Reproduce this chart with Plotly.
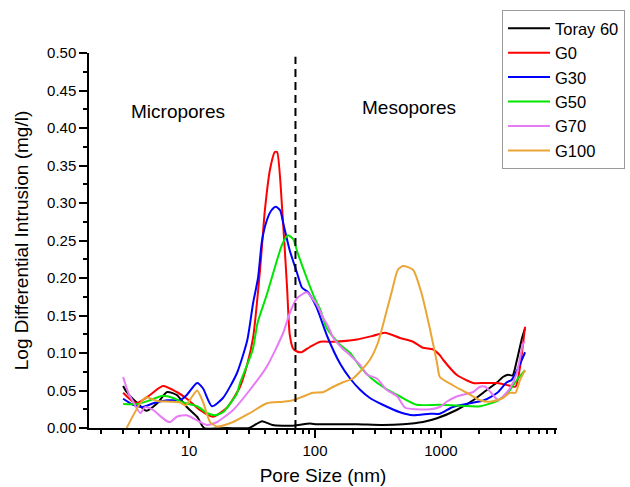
import plotly.graph_objects as go

# ---- data (pore size in nm, log differential intrusion in mg/l) ----
toray_x = [3.0, 3.2, 3.9, 4.6, 5.6, 6.7, 8.0, 9.6, 11.6, 13.2, 20, 30, 34, 38, 46, 67, 91, 103,
           150, 215, 345, 500, 720, 930, 1330, 1800, 2200, 2800, 3100, 3400, 3700, 4000, 4400, 4650]
toray_y = [0.056, 0.048, 0.033, 0.023, 0.033, 0.048, 0.044, 0.028, 0.015, 0.0, 0.0, 0.0, 0.005, 0.009,
           0.004, 0.003, 0.006, 0.005, 0.005, 0.005, 0.004, 0.005, 0.008, 0.013, 0.024, 0.037, 0.048,
           0.061, 0.068, 0.071, 0.070, 0.090, 0.120, 0.133]

g0_x = [3.0, 3.8, 4.9, 6.2, 8.0, 9.6, 12.2, 15.5, 20, 25.4, 29, 32.3, 36.6, 40, 44, 48, 50, 55, 60,
        63, 67, 72, 78, 91, 110, 140, 215, 290, 360, 473, 600, 720, 860, 980, 1040, 1330, 1800,
        2200, 2800, 3400, 3900, 4240, 4650]
g0_y = [0.047, 0.033, 0.044, 0.056, 0.048, 0.039, 0.024, 0.015, 0.027, 0.055, 0.085, 0.121, 0.21,
        0.29, 0.345, 0.368, 0.368, 0.29, 0.188, 0.125, 0.106, 0.102, 0.101, 0.108, 0.115, 0.115,
        0.118, 0.123, 0.127, 0.120, 0.115, 0.107, 0.105, 0.097, 0.091, 0.071, 0.060, 0.060, 0.060,
        0.057, 0.055, 0.081, 0.135]

g30_x = [3.0, 3.6, 4.3, 5.2, 6.7, 8.5, 9.6, 11.6, 12.9, 15.2, 18.6, 24, 29, 32.3, 35.3, 38, 41.5,
         45, 49, 53, 56, 63, 72, 79, 88, 103, 110, 126, 158, 190, 228, 273, 345, 473, 600, 820,
         980, 1240, 1700, 2200, 2800, 3330, 3630, 4100, 4650]
g30_y = [0.039, 0.031, 0.028, 0.033, 0.037, 0.037, 0.044, 0.060, 0.053, 0.029, 0.040, 0.073, 0.117,
         0.167, 0.200, 0.250, 0.277, 0.290, 0.295, 0.290, 0.273, 0.237, 0.207, 0.187, 0.181, 0.161,
         0.148, 0.121, 0.086, 0.066, 0.051, 0.040, 0.031, 0.021, 0.017, 0.019, 0.019, 0.028, 0.033,
         0.037, 0.047, 0.061, 0.064, 0.080, 0.101]

g50_x = [3.0, 3.9, 4.9, 6.2, 7.5, 9.0, 11.6, 13.9, 16, 18.6, 24, 25.4, 32, 35, 41.5, 50, 55, 61, 67,
         73, 86, 100, 110, 124, 158, 190, 228, 273, 345, 473, 640, 980, 2040, 2850, 3400, 4000, 4650]
g50_y = [0.032, 0.032, 0.037, 0.043, 0.040, 0.034, 0.029, 0.020, 0.017, 0.021, 0.046, 0.060, 0.104,
         0.140, 0.178, 0.224, 0.245, 0.257, 0.252, 0.233, 0.200, 0.172, 0.158, 0.133, 0.111, 0.100,
         0.082, 0.068, 0.055, 0.042, 0.031, 0.031, 0.029, 0.037, 0.047, 0.064, 0.077]

g70_x = [3.0, 3.3, 3.6, 4.1, 4.5, 5.2, 5.9, 6.7, 7.1, 8.0, 9.6, 12.2, 13.9, 16.7, 22.4, 30.5, 41.5,
         56, 63, 72, 86, 96, 103, 117, 126, 140, 163, 190, 228, 260, 310, 370, 450, 520, 640, 820,
         980, 1110, 1330, 1800, 2040, 2250, 2500, 2850, 3100, 3530, 4000, 4500, 4650]
g70_y = [0.068, 0.047, 0.035, 0.020, 0.028, 0.024, 0.016, 0.009, 0.008, 0.015, 0.017, 0.008, 0.004,
         0.008, 0.024, 0.051, 0.082, 0.127, 0.153, 0.173, 0.181, 0.172, 0.165, 0.146, 0.137, 0.120,
         0.107, 0.097, 0.084, 0.071, 0.066, 0.051, 0.042, 0.027, 0.025, 0.025, 0.028, 0.035, 0.042,
         0.048, 0.055, 0.055, 0.047, 0.037, 0.042, 0.053, 0.073, 0.113, 0.115]

g100_x = [3.2, 4.1, 4.6, 5.6, 7.1, 8.5, 9.4, 10.6, 11.6, 12.9, 14.7, 16.7, 22.4, 30.5, 41.5, 56, 67,
          86, 96, 117, 140, 167, 200, 236, 273, 315, 360, 410, 455, 500, 600, 700, 820, 930, 980,
          1240, 1600, 2040, 2450, 3100, 3530, 3900, 4240, 4650]
g100_y = [0.0, 0.033, 0.041, 0.036, 0.035, 0.034, 0.030, 0.042, 0.050, 0.035, 0.008, 0.002, 0.008,
          0.020, 0.033, 0.035, 0.037, 0.044, 0.047, 0.048, 0.055, 0.061, 0.066, 0.078, 0.091, 0.113,
          0.148, 0.184, 0.211, 0.216, 0.211, 0.180, 0.131, 0.087, 0.068, 0.057, 0.047, 0.037, 0.035,
          0.040, 0.047, 0.047, 0.064, 0.077]

series_names = ["Toray 60", "G0", "G30", "G50", "G70", "G100"]
series_x = [toray_x, g0_x, g30_x, g50_x, g70_x, g100_x]
series_y = [toray_y, g0_y, g30_y, g50_y, g70_y, g100_y]
colors = ["#000000", "#FF0000", "#0000FF", "#00E600", "#E77BF5", "#EAA535"]

boundary_x = [70, 70]
boundary_y = [0, 0.495]

x_major = [10, 100, 1000]
x_minor = [2, 3, 4, 5, 6, 7, 8, 9, 20, 30, 40, 50, 60, 70, 80, 90,
           200, 300, 400, 500, 600, 700, 800, 900, 2000, 3000, 4000, 5000, 6000, 7000, 8000]

FONT = "Arial, Liberation Sans, sans-serif"

fig = go.Figure()
for name, xs, ys, c in zip(series_names, series_x, series_y, colors):
    fig.add_trace(go.Scatter(x=xs, y=ys, mode="lines", name=name,
                             line=dict(color=c, width=2, shape="spline", smoothing=0.6)))

fig.add_trace(go.Scatter(x=boundary_x, y=boundary_y, mode="lines", showlegend=False,
                         line=dict(color="black", width=2, dash="8px,5px"), hoverinfo="skip"))

fig.update_layout(
    template="none",
    width=630, height=487,
    paper_bgcolor="white", plot_bgcolor="white",
    font=dict(family=FONT, size=15, color="black"),
    margin=dict(l=89, r=73, t=53, b=59, autoexpand=False),
    legend=dict(x=0.8825, y=1.1147, xanchor="left", yanchor="top",
                font=dict(size=16.5, family=FONT), bgcolor="white",
                bordercolor="#9a9a9a", borderwidth=1, itemwidth=42,
                tracegroupgap=0),
    xaxis=dict(type="log", range=[0.2063, 3.921], tickvals=x_major,
               ticktext=[str(v) for v in x_major],
               ticks="outside", ticklen=8, tickwidth=1.5, tickcolor="black",
               showline=True, linecolor="black", linewidth=1.5, mirror=False,
               showgrid=False, zeroline=False,
               minor=dict(tickvals=x_minor, ticks="outside", ticklen=4, tickwidth=1.5,
                          tickcolor="black", showgrid=False),
               title=dict(text="Pore Size (nm)", font=dict(size=19, family=FONT), standoff=11),
               tickfont=dict(size=15)),
    yaxis=dict(range=[0, 0.5], dtick=0.05, tick0=0, tickformat=".2f",
               ticks="outside", ticklen=8, tickwidth=1.5, tickcolor="black",
               showline=True, linecolor="black", linewidth=1.5, mirror=False,
               showgrid=False, zeroline=False,
               minor=dict(dtick=0.025, ticks="outside", ticklen=4, tickwidth=1.5,
                          tickcolor="black", showgrid=False),
               title=dict(text="Log Differential Intrusion (mg/l)", font=dict(size=19, family=FONT),
                          standoff=13),
               tickfont=dict(size=15)),
    annotations=[
        dict(text="Micropores", x=0.190, y=0.845, xref="paper", yref="paper",
             xanchor="center", yanchor="middle",
             showarrow=False, font=dict(size=19, family=FONT)),
        dict(text="Mesopores", x=0.684, y=0.856, xref="paper", yref="paper",
             xanchor="center", yanchor="middle",
             showarrow=False, font=dict(size=19, family=FONT)),
    ],
)

fig.write_html("out.html", config={"displayModeBar": False},
               post_script="document.body.style.margin='0px';document.body.style.overflow='hidden';")
